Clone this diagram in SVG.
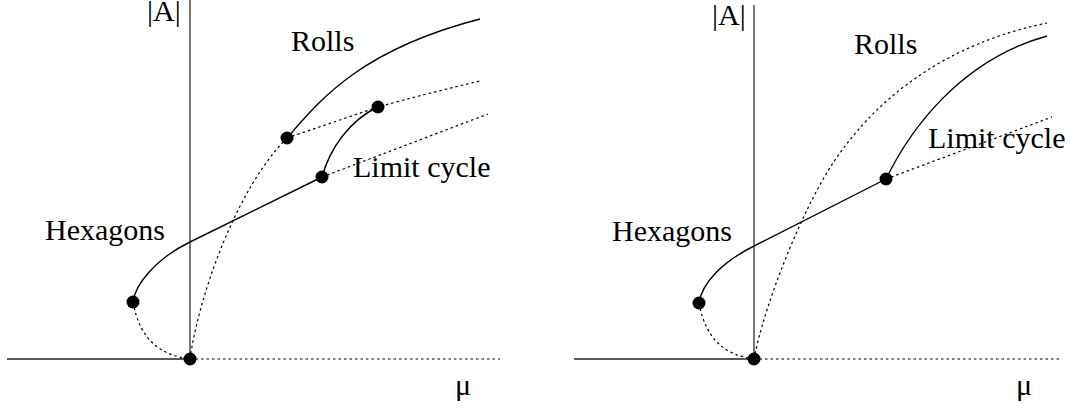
<svg xmlns="http://www.w3.org/2000/svg" width="1070" height="410" viewBox="0 0 1070 410">
<style>
.axis{stroke:#555;stroke-width:1.6;fill:none}
.hax{stroke:#222;stroke-width:1.3;fill:none}
.solid{stroke:#000;stroke-width:1.4;fill:none}
.dot{stroke:#000;stroke-width:1.2;fill:none;stroke-dasharray:2.5 3}
.pt{fill:#000}
text{font-family:"Liberation Serif","Times New Roman",serif;font-size:30px;fill:#000}
</style>
<rect width="1070" height="410" fill="#fff"/>
<g id="left-panel">
<g id="left-axes">
<line class="axis" x1="190" y1="0" x2="190" y2="359"/>
<line class="hax" x1="7" y1="359" x2="190" y2="359"/>
<line class="dot" x1="190" y1="359" x2="500" y2="359"/>
</g>
<g id="left-connectors">
<path class="solid" d="M133,302 C135,285 155,259 190,242 L322,177"/>
<path class="dot" d="M133,302 C140,340 160,355 190,359"/>
<path class="dot" d="M190,359 C198,300 235,190 287,138"/>
<path class="solid" d="M287,138 C320,100 360,50 480,19"/>
<path class="dot" d="M287,138 L378,107 C410,98 450,88 480,81"/>
<path class="solid" d="M322,177 C330,148 350,120 378,107"/>
<path class="dot" d="M322,177 L488,114"/>
</g>
<g id="left-points">
<circle class="pt" cx="190" cy="359" r="6.5"/>
<circle class="pt" cx="133" cy="302" r="6.5"/>
<circle class="pt" cx="287" cy="138" r="6.5"/>
<circle class="pt" cx="322" cy="177" r="6.5"/>
<circle class="pt" cx="378" cy="107" r="6.5"/>
</g>
<g id="left-labels">
<text x="147" y="21">|A|</text>
<text x="291" y="51">Rolls</text>
<text x="353" y="177">Limit cycle</text>
<text x="45" y="240">Hexagons</text>
<text x="455" y="395">μ</text>
</g>
</g>
<g id="right-panel">
<g id="right-axes">
<line class="axis" x1="754" y1="5" x2="754" y2="359"/>
<line class="hax" x1="574" y1="359" x2="754" y2="359"/>
<line class="dot" x1="754" y1="359" x2="1060" y2="359"/>
</g>
<g id="right-connectors">
<path class="solid" d="M699,303 C702,283 722,262 754,246 L886,179"/>
<path class="dot" d="M699,303 C706,340 725,355 754,359"/>
<path class="dot" d="M754,359 C766,298 805,205 833,163 C855,130 915,50 1047,23"/>
<path class="solid" d="M886,179 C910,130 960,60 1047,36"/>
<path class="dot" d="M886,179 L1052,117"/>
</g>
<g id="right-points">
<circle class="pt" cx="754" cy="359" r="6.5"/>
<circle class="pt" cx="699" cy="303" r="6.5"/>
<circle class="pt" cx="886" cy="179" r="6.5"/>
</g>
<g id="right-labels">
<text x="712" y="25">|A|</text>
<text x="854" y="54">Rolls</text>
<text x="928" y="148">Limit cycle</text>
<text x="612" y="241">Hexagons</text>
<text x="1016" y="395">μ</text>
</g>
</g>
</svg>
